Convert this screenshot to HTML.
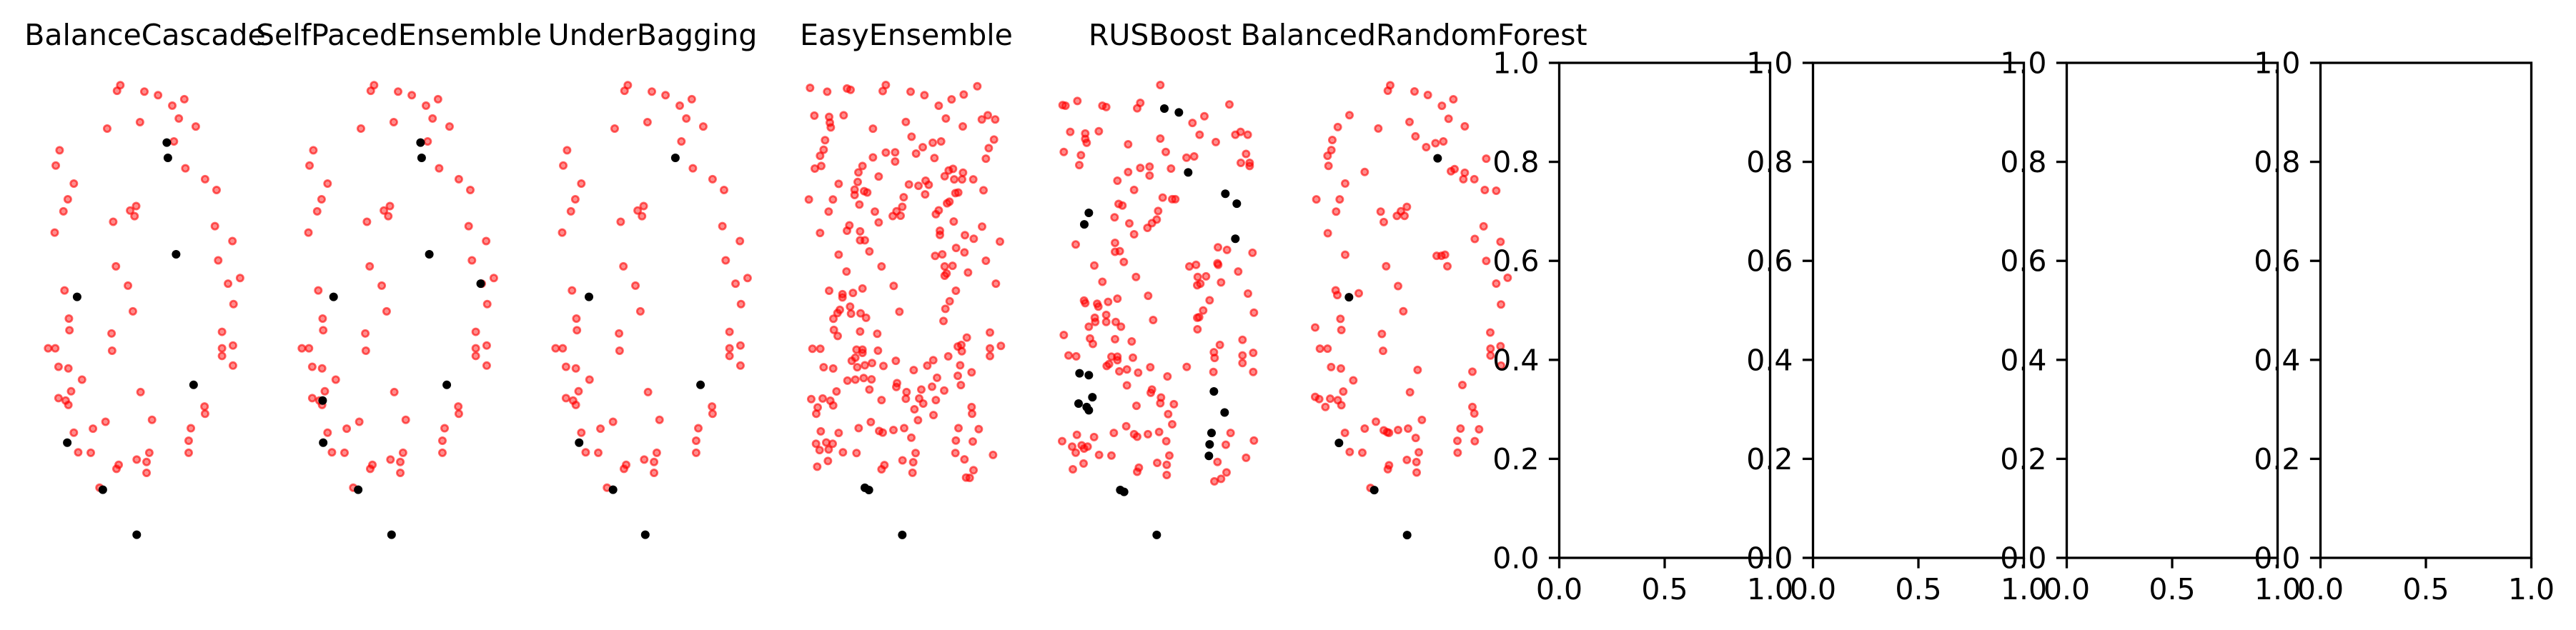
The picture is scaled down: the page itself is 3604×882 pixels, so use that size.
<!DOCTYPE html>
<html><head><meta charset="utf-8"><style>
html,body{margin:0;padding:0;background:#fff;}
svg{display:block;font-family:"DejaVu Sans","Liberation Sans",sans-serif;}
</style></head><body>
<svg id="fig" width="3604" height="882" viewBox="0 0 3604 882" xmlns="http://www.w3.org/2000/svg">
<rect width="3604" height="882" fill="#fff"/>
</svg>
<script>
const titles = ["BalanceCascade","SelfPacedEnsemble","UnderBagging","EasyEnsemble","RUSBoost","BalancedRandomForest"];
const redA = [[220,212],[214,226],[264,228],[289,237],[337,247],[315,263],[327,295],[256,304],[358,315],[196,320],[318,352],[109,374],[102,412],[339,419],[375,446],[135,457],[396,473],[124,496],[249,513],[238,524],[116,526],[246,538],[207,552],[393,563],[100,579],[425,600],[399,648],[212,663],[439,692],[417,706],[234,711],[118,723],[427,757],[243,775],[126,793],[127,822],[406,826],[204,830],[88,867],[101,867],[406,867],[426,860],[205,873],[406,886],[107,913],[125,917],[426,910],[150,945],[257,976],[130,974],[107,991],[120,997],[125,1008],[374,1012],[375,1030],[278,1045],[193,1050],[170,1067],[349,1066],[135,1077],[345,1097],[143,1126],[166,1127],[273,1127],[345,1127],[250,1144],[268,1150],[217,1157],[213,1167],[268,1177],[182,1214]];
const blackA1 = [[305,355],[307,393],[322,633],[141,739],[354,958],[123,1102],[188,1219],[250,1331]];
const blackA2 = [[305,355],[307,393],[321,633],[415,706],[146,739],[353,958],[126,997],[127,1102],[191,1219],[252,1331]];
const blackA3 = [[307,393],[149,739],[353,958],[131,1102],[193,1219],[252,1331]];
const red4 = [[100,74],[172,86],[255,76],[270,80],[405,84],[418,65],[522,86],[580,97],[640,130],[694,110],[745,95],[802,69],[118,161],[180,165],[183,183],[187,198],[241,160],[364,202],[502,181],[670,170],[741,195],[821,173],[846,160],[877,173],[163,238],[157,268],[142,287],[120,327],[147,319],[526,227],[573,260],[545,280],[615,246],[650,242],[622,294],[364,292],[418,277],[457,276],[457,305],[872,236],[850,263],[838,296],[320,319],[303,339],[388,352],[220,375],[300,369],[287,393],[287,410],[327,398],[340,402],[307,440],[95,424],[196,424],[178,462],[515,377],[555,381],[585,365],[598,378],[583,408],[493,417],[487,447],[463,461],[447,476],[480,475],[372,462],[388,496],[665,351],[682,333],[700,328],[705,361],[738,361],[742,340],[785,361],[828,395],[710,404],[722,402],[675,436],[685,431],[640,458],[628,470],[703,493],[142,529],[265,505],[255,522],[310,524],[310,552],[330,552],[349,587],[220,597],[253,650],[400,634],[645,522],[645,535],[750,536],[787,547],[822,509],[897,556],[713,576],[748,590],[838,616],[625,601],[655,596],[665,634],[698,632],[763,653],[665,663],[673,656],[880,688],[451,695],[180,710],[236,721],[236,731],[280,717],[320,703],[225,770],[215,780],[268,760],[272,782],[312,781],[335,795],[198,798],[200,833],[216,852],[310,838],[382,845],[475,776],[712,710],[686,743],[668,767],[660,805],[758,857],[855,841],[110,892],[143,892],[295,895],[320,895],[320,905],[275,930],[290,920],[385,898],[157,950],[197,954],[298,950],[330,944],[360,937],[408,946],[460,930],[535,959],[592,945],[617,928],[680,916],[720,885],[735,880],[737,900],[730,944],[778,966],[855,891],[855,915],[901,883],[257,992],[290,989],[325,984],[358,988],[349,1020],[211,1026],[105,1050],[153,1048],[185,1055],[197,1070],[132,1076],[126,1096],[400,1053],[465,1000],[462,1012],[505,1028],[502,1049],[558,1048],[575,1064],[567,1020],[612,1011],[633,983],[663,1023],[628,1053],[538,1082],[553,1116],[618,1100],[720,977],[733,1006],[778,1075],[780,1096],[145,1151],[220,1156],[304,1141],[355,1122],[390,1150],[405,1155],[450,1147],[495,1141],[525,1171],[125,1190],[168,1186],[178,1208],[140,1210],[195,1190],[238,1217],[295,1219],[175,1244],[130,1262],[543,1219],[533,1248],[530,1281],[488,1242],[400,1270],[412,1257],[723,1141],[808,1144],[712,1180],[783,1183],[710,1219],[748,1239],[868,1225],[786,1273],[755,1296],[770,1297]];
const black4 = [[330,1328],[347,1335],[487,1476]];
const red5 = [[505,65],[95,128],[107,130],[157,115],[262,130],[278,134],[408,138],[421,121],[795,126],[690,163],[640,184],[127,212],[190,217],[190,234],[196,246],[247,210],[370,251],[505,233],[528,275],[670,221],[738,244],[820,221],[842,212],[872,221],[615,293],[647,289],[865,281],[843,309],[880,309],[880,319],[100,275],[172,285],[165,316],[370,338],[421,325],[460,321],[460,349],[550,327],[325,365],[395,394],[515,418],[555,423],[568,423],[330,438],[346,443],[313,480],[375,499],[395,533],[451,513],[470,498],[490,487],[496,460],[150,565],[315,560],[315,588],[335,586],[352,620],[228,631],[262,682],[403,667],[747,574],[785,582],[892,591],[627,634],[655,629],[745,624],[748,629],[662,667],[697,665],[660,693],[673,688],[760,684],[832,650],[873,719],[454,726],[185,741],[190,749],[240,751],[245,760],[286,745],[325,735],[230,795],[232,808],[278,786],[278,808],[318,808],[340,823],[205,823],[100,849],[210,860],[222,877],[315,862],[385,869],[475,802],[712,740],[685,772],[660,795],[668,793],[661,831],[755,880],[850,864],[898,779],[120,913],[152,916],[300,917],[325,917],[325,928],[280,946],[290,940],[390,920],[333,963],[365,957],[412,967],[463,950],[535,979],[616,949],[730,903],[733,921],[728,965],[850,913],[850,937],[895,905],[895,965],[365,1007],[470,1020],[465,1030],[508,1045],[505,1063],[562,1066],[538,1097],[555,1129],[405,1071],[93,1182],[155,1162],[135,1199],[175,1195],[185,1205],[200,1199],[150,1218],[227,1169],[248,1225],[300,1227],[183,1252],[138,1270],[310,1156],[362,1135],[395,1160],[408,1168],[453,1160],[500,1153],[530,1182],[543,1227],[532,1256],[532,1288],[492,1250],[408,1278],[415,1265],[800,1156],[898,1180],[780,1193],[865,1234],[745,1247],[783,1280],[760,1300],[732,1308]];
const black5 = [[522,139],[583,151],[622,339],[778,406],[826,437],[820,547],[205,466],[186,502],[166,969],[205,975],[220,1044],[162,1064],[196,1075],[205,1085],[730,1026],[775,1092],[720,1156],[712,1192],[709,1228],[337,1335],[353,1341],[490,1476]];
const red6 = [[405,237],[395,252],[507,254],[563,264],[622,294],[670,276],[650,330],[718,351],[486,339],[511,379],[556,409],[595,398],[628,393],[234,320],[185,353],[355,357],[162,389],[158,417],[142,433],[146,461],[298,478],[216,510],[95,554],[193,554],[178,588],[143,648],[365,588],[378,617],[433,600],[450,587],[475,575],[465,600],[808,441],[660,476],[675,470],[718,480],[712,498],[758,498],[802,528],[850,530],[797,629],[760,664],[868,672],[808,725],[216,708],[388,740],[600,711],[620,711],[635,708],[645,740],[850,788],[898,772],[870,846],[825,924],[826,969],[826,988],[868,962],[870,1016],[176,807],[183,820],[273,815],[438,795],[460,865],[196,886],[200,917],[90,910],[110,969],[142,969],[370,928],[375,975],[157,1020],[198,1024],[250,1057],[520,1028],[488,1090],[708,1070],[750,1033],[90,1103],[107,1109],[153,1108],[185,1112],[200,1126],[133,1131],[208,1088],[750,1131],[758,1149],[345,1172],[298,1191],[215,1203],[235,1256],[288,1258],[378,1196],[392,1201],[400,1203],[438,1195],[480,1191],[512,1217],[538,1167],[525,1257],[475,1278],[515,1284],[516,1313],[400,1293],[395,1304],[700,1191],[778,1193],[687,1225],[760,1226],[688,1258],[322,1356]];
const black6 = [[604,440],[232,826],[190,1231],[338,1362],[476,1487]];
const yTicks = [0,0.2,0.4,0.6,0.8,1.0];
const yTickLabels = ["0.0","0.2","0.4","0.6","0.8","1.0"];
const xTicks = [0,0.5,1.0];
const xTickLabels = ["0.0","0.5","1.0"];

const NS = "http://www.w3.org/2000/svg";
const svg = document.getElementById("fig");
const AX_W = 295, AX_TOP = 88, AX_BOT = 781, STEP = 355, LEFT0 = 51.5;
function axLeft(k){ return LEFT0 + k*STEP; }
function mk(tag, attrs, parent){ const e=document.createElementNS(NS,tag); for(const a in attrs) e.setAttribute(a,attrs[a]); (parent||svg).appendChild(e); return e; }

// per-panel scale definitions (data units -> pixels)
const scaleA = {kx:1/1.307, ox:-51.5, ky:1/1.778, oy:0};
const scaleB = {kx:1/3, ox:-16.5, ky:1/2.24, oy:90};
const scaleC = {kx:1/3, ox:-16.5, ky:1/1.985, oy:0};
const panels = [
 {red:redA, black:blackA1, s:scaleA},
 {red:redA, black:blackA2, s:scaleA},
 {red:redA, black:blackA3, s:scaleA},
 {red:red4, black:black4, s:scaleB},
 {red:red5, black:black5, s:scaleB},
 {red:red6, black:black6, s:scaleC}
];
function xScale(v,k,s){ return axLeft(k) + s.ox + v*s.kx; }
function yScale(v,s){ return s.oy + v*s.ky; }

panels.forEach((p,k)=>{
  const g = mk("g",{});
  
  
  const t = mk("text",{x:axLeft(k)+AX_W/2+4, y:63, "font-size":41, "text-anchor":"middle", fill:"#000"}, g);
  t.textContent = titles[k];
  
  
  p.red.forEach(d=>{
    const c = mk("circle",{cx:xScale(d[0],k,p.s), cy:yScale(d[1],p.s), r:4.6, fill:"rgba(255,0,0,0.45)", stroke:"rgba(255,0,0,0.6)", "stroke-width":2.8}, g);
    
    
  });
  p.black.forEach(d=>{
    const c = mk("circle",{cx:xScale(d[0],k,p.s), cy:yScale(d[1],p.s), r:6, fill:"#000"}, g);
    
    
  });
});

// empty axes
for(let j=0;j<4;j++){
  const k = 6+j, L = axLeft(k), R = L+AX_W;
  const g = mk("g",{});
  
  
  const ys = v => AX_BOT - v*(AX_BOT-AX_TOP);
  const xs = v => L + v*AX_W;
  yTicks.forEach((v,i)=>{
    mk("line",{x1:L-14.6,x2:L,y1:ys(v),y2:ys(v),stroke:"#000","stroke-width":3.3},g);
    const t = mk("text",{x:L-28, y:ys(v)+14.5, "font-size":41, "text-anchor":"end", fill:"#000"}, g);
    t.textContent = yTickLabels[i];
    
    
  });
  xTicks.forEach((v,i)=>{
    mk("line",{x1:xs(v),x2:xs(v),y1:AX_BOT,y2:AX_BOT+14.6,stroke:"#000","stroke-width":3.3},g);
    const t = mk("text",{x:xs(v), y:AX_BOT+58, "font-size":41, "text-anchor":"middle", fill:"#000"}, g);
    t.textContent = xTickLabels[i];
    
    
  });
  const r = mk("rect",{x:L,y:AX_TOP,width:AX_W,height:AX_BOT-AX_TOP,fill:"none",stroke:"#000","stroke-width":3.3},g);
  
  
}
</script>
</body></html>
